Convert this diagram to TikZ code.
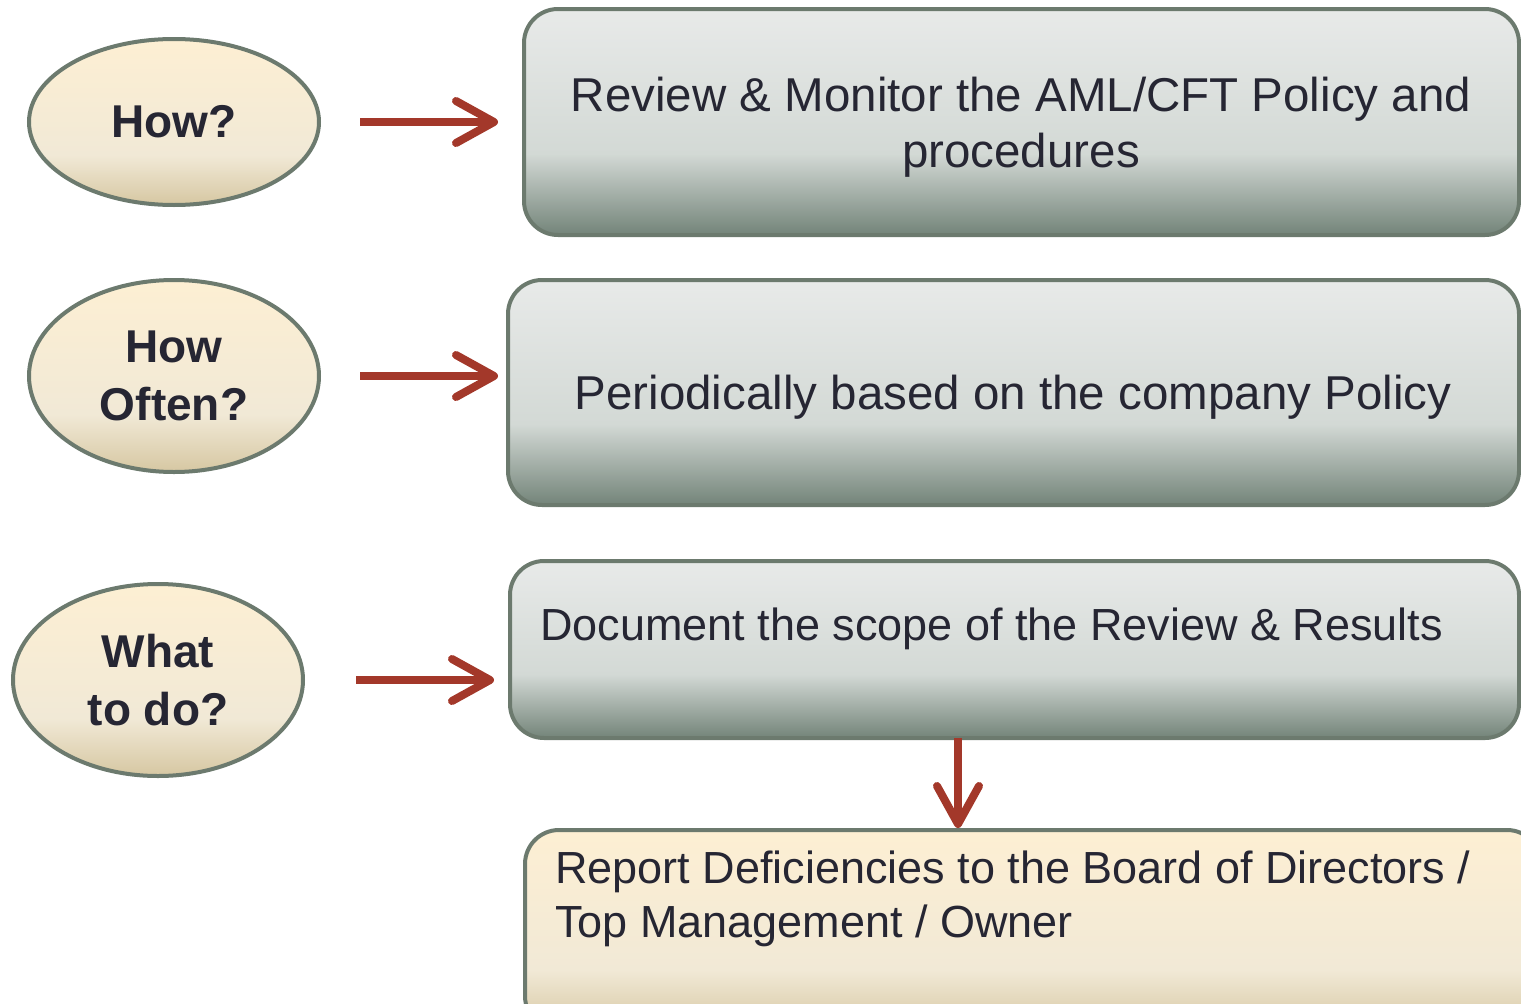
\documentclass[tikz,border=0pt]{standalone}
\usepackage{fontspec}
\setmainfont{Liberation Sans}
\usetikzlibrary{shapes.geometric,arrows.meta,calc}

\definecolor{edge}{HTML}{6C7A6E}
\definecolor{arrowred}{HTML}{A3382A}
\definecolor{ink}{HTML}{262633}
\definecolor{sandtop}{HTML}{FDEFD3}
\definecolor{sandmid}{HTML}{F1E9D6}
\definecolor{sandlow}{HTML}{D6C7A2}
\definecolor{greytop}{HTML}{E8EAE9}
\definecolor{greymid}{HTML}{D3D9D5}
\definecolor{greylow}{HTML}{738479}

\pgfdeclareverticalshading{greyshade}{100bp}{color(0bp)=(greylow); color(25bp)=(greylow); color(43bp)=(greymid); color(75bp)=(greytop); color(100bp)=(greytop)}
\pgfdeclareverticalshading{sandshade}{100bp}{color(0bp)=(sandlow); color(25bp)=(sandlow); color(40bp)=(sandmid); color(75bp)=(sandtop); color(100bp)=(sandtop)}

\tikzset{
  question/.style={ellipse, draw=edge, line width=4pt, shade, shading=sandshade, minimum width=290pt, text=ink, align=center, font=\fontsize{46}{58}\selectfont\bfseries},
  answer/.style={rectangle, rounded corners=34pt, draw=edge, line width=4pt, shade, shading=greyshade},
  report/.style={answer, shading=sandshade},
  words/.style={text=ink, inner sep=0pt, align=left, font=\fontsize{45}{54}\selectfont},
  bigwords/.style={words, align=center, font=\fontsize{47.5}{56}\selectfont},
  link/.style={draw=arrowred, line width=8pt, -{Straight Barb[length=38pt,width=42pt,round]}}
}

\begin{document}
\begin{tikzpicture}[x=1pt,y=-1pt]
  \useasboundingbox (0,0) rectangle (1521,1004);
  % questions
  \node[question, minimum height=166pt] (how) at (174,122) {How?};
  \node[question, minimum height=192pt] (often) at (174,376) {How\\Often?};
  \node[question, minimum height=192pt] (what) at (158,680) {What\\to do?};
  % answers
  \node[answer, minimum width=995pt, minimum height=226pt] (review) at (1021.5,122) {};
  \node[bigwords] (reviewtext) at (1021,127) {Review \& Monitor the AML/CFT Policy and\\procedures};
  \node[answer, minimum width=1011pt, minimum height=225pt] (periodic) at (1013.5,392.5) {};
  \node[bigwords] (periodictext) at (1013,397) {Periodically based on the company Policy};
  \node[answer, minimum width=1009pt, minimum height=177pt] (document) at (1014.5,649.5) {};
  \node[words, anchor=base west] (documenttext) at (540,640) {Document the scope of the Review \& Results};
  \node[report, minimum width=1016pt, minimum height=200pt] (report) at (1033,930) {};
  \node[words, anchor=base west] (reporttext) at (555,937) {Report Deficiencies to the Board of Directors /\\Top Management / Owner};
  % arrows
  \draw[link, shorten <=39pt, shorten >=24pt] (how.east) -- (review.west);
  \draw[link, shorten <=39pt, shorten >=8pt] (often.east) -- (often.east -| periodic.west);
  \draw[link, shorten <=51pt, shorten >=14pt] (what.east) -- (what.east -| document.west);
  \coordinate (down) at (958,738);
  \draw[link] (down) -- (down |- report.north);
\end{tikzpicture}
\end{document}
